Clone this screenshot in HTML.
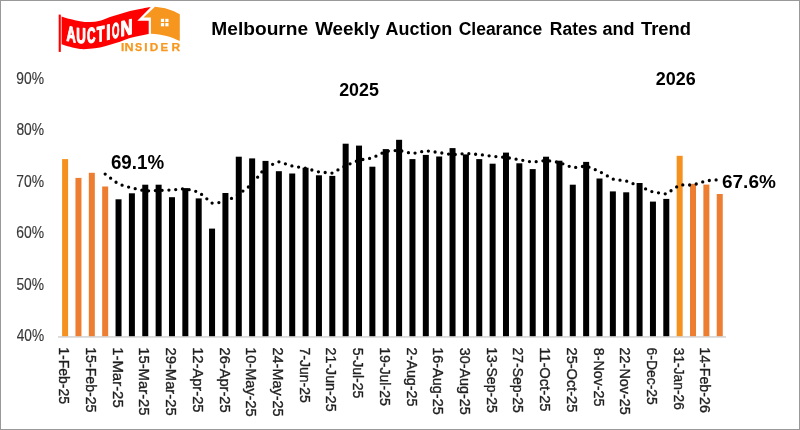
<!DOCTYPE html>
<html><head><meta charset="utf-8"><style>
html,body{margin:0;padding:0;background:#fff;}
svg{display:block;will-change:transform;}
text{font-family:"Liberation Sans",sans-serif;}
.xl{font-size:14.6px;fill:#1f1f1f;stroke:#1f1f1f;stroke-width:0.35;}
.yl{fill:#383838;stroke:#383838;stroke-width:0.15;}
.b{font-weight:bold;fill:#000;stroke:#fff;stroke-width:0;}
.ins{font-weight:bold;fill:#F7981F;stroke:#F7981F;stroke-width:0.25;stroke-linejoin:round;}
.auc{font-weight:bold;fill:#fff;stroke:#fff;stroke-width:1.2;stroke-linejoin:round;}
</style></head><body>
<svg width="800" height="430" viewBox="0 0 800 430">
<rect x="0" y="0" width="800" height="430" fill="#fff"/>
<rect x="0.5" y="0.5" width="799" height="429" fill="none" stroke="#999999" stroke-width="1"/>

<g>
  <rect x="58.7" y="14.6" width="2.1" height="37.3" fill="#FF0000"/>
  <path d="M61.6,16.4 C63.00,16.83 66.93,18.20 70.00,19.00 C73.07,19.80 76.67,20.68 80.00,21.20 C83.33,21.72 86.67,22.17 90.00,22.10 C93.33,22.03 96.67,21.67 100.00,20.80 C103.33,19.93 106.67,18.05 110.00,16.90 C113.33,15.75 116.67,14.90 120.00,13.90 C123.33,12.90 126.67,11.72 130.00,10.90 C133.33,10.08 136.52,9.63 140.00,9.00 C143.48,8.37 149.08,7.42 150.90,7.10 L137.3,20.8 L148.7,20.8 L148.7,33.9 C147.25,34.20 143.12,35.02 140.00,35.70 C136.88,36.38 133.33,36.98 130.00,38.00 C126.67,39.02 123.33,40.67 120.00,41.80 C116.67,42.93 113.33,43.87 110.00,44.80 C106.67,45.73 103.33,46.73 100.00,47.40 C96.67,48.07 93.33,48.53 90.00,48.80 C86.67,49.07 83.33,49.33 80.00,49.00 C76.67,48.67 73.07,47.60 70.00,46.80 C66.93,46.00 63.00,44.63 61.60,44.20 Z" fill="#FF0000"/>
  <path d="M155,6.8 C165,7.6 172,10 179.8,14.2 L179.8,41.1 C172,37 162,34 150.9,33.7 L150.9,17.6 L143.5,17.6 Z" fill="#F6961F"/>
  <g fill="#fff">
    <rect x="160.9" y="18.8" width="3.2" height="3.2"/><rect x="165.3" y="18.8" width="3.2" height="3.2"/>
    <rect x="160.9" y="23.1" width="3.2" height="3.2"/><rect x="165.3" y="23.1" width="3.2" height="3.2"/>
  </g>
  <text transform="translate(71.10,41.63) skewY(12.33)" x="-4.62" y="0" font-size="21.3" class="auc" textLength="9.26" lengthAdjust="spacingAndGlyphs">A</text><text transform="translate(81.00,42.88) skewY(2.41)" x="-4.80" y="0" font-size="21.3" class="auc" textLength="9.61" lengthAdjust="spacingAndGlyphs">U</text><text transform="translate(91.35,42.56) skewY(-5.60)" x="-4.33" y="0" font-size="21.3" class="auc" textLength="8.51" lengthAdjust="spacingAndGlyphs">C</text><text transform="translate(100.75,41.19) skewY(-10.56)" x="-3.89" y="0" font-size="21.3" class="auc" textLength="7.78" lengthAdjust="spacingAndGlyphs">T</text><text transform="translate(108.30,39.60) skewY(-12.97)" x="-2.12" y="0" font-size="21.3" class="auc" textLength="4.24" lengthAdjust="spacingAndGlyphs">I</text><text transform="translate(115.80,37.79) skewY(-14.04)" x="-3.69" y="0" font-size="21.3" class="auc" textLength="7.39" lengthAdjust="spacingAndGlyphs">O</text><text transform="translate(126.50,35.13) skewY(-13.36)" x="-6.02" y="0" font-size="21.3" class="auc" textLength="12.04" lengthAdjust="spacingAndGlyphs">N</text>
  <text x="121.06" y="50.60" font-size="10.0" class="ins" textLength="3.28" lengthAdjust="spacingAndGlyphs" >I</text><text x="124.41" y="50.60" font-size="10.0" class="ins" textLength="9.09" lengthAdjust="spacingAndGlyphs" >N</text><text x="135.04" y="50.60" font-size="10.0" class="ins" textLength="7.13" lengthAdjust="spacingAndGlyphs" >S</text><text x="144.16" y="50.60" font-size="10.0" class="ins" textLength="3.28" lengthAdjust="spacingAndGlyphs" >I</text><text x="149.66" y="50.60" font-size="10.0" class="ins" textLength="8.48" lengthAdjust="spacingAndGlyphs" >D</text><text x="160.49" y="50.60" font-size="10.0" class="ins" textLength="7.61" lengthAdjust="spacingAndGlyphs" >E</text><text x="171.55" y="50.60" font-size="10.0" class="ins" textLength="8.65" lengthAdjust="spacingAndGlyphs" >R</text>
</g>

<text x="211.32" y="35.10" font-size="18.8" class="b" textLength="96.84" lengthAdjust="spacingAndGlyphs" >Melbourne</text><text x="315.18" y="35.10" font-size="18.8" class="b" textLength="64.52" lengthAdjust="spacingAndGlyphs" >Weekly</text><text x="385.55" y="35.10" font-size="18.8" class="b" textLength="66.76" lengthAdjust="spacingAndGlyphs" >Auction</text><text x="458.68" y="35.10" font-size="18.8" class="b" textLength="83.62" lengthAdjust="spacingAndGlyphs" >Clearance</text><text x="549.83" y="35.10" font-size="18.8" class="b" textLength="47.59" lengthAdjust="spacingAndGlyphs" >Rates</text><text x="602.47" y="35.10" font-size="18.8" class="b" textLength="32.01" lengthAdjust="spacingAndGlyphs" >and</text><text x="641.00" y="35.10" font-size="18.8" class="b" textLength="49.99" lengthAdjust="spacingAndGlyphs" >Trend</text>
<text x="339.18" y="95.50" font-size="17.6" class="b" textLength="39.72" lengthAdjust="spacingAndGlyphs" >2025</text>
<text x="655.78" y="84.70" font-size="17.9" class="b" textLength="39.97" lengthAdjust="spacingAndGlyphs" >2026</text>
<text x="16.35" y="83.70" font-size="15.8" class="yl" textLength="27.74" lengthAdjust="spacingAndGlyphs" >90%</text><text x="16.40" y="135.25" font-size="15.8" class="yl" textLength="27.69" lengthAdjust="spacingAndGlyphs" >80%</text><text x="16.29" y="186.80" font-size="15.8" class="yl" textLength="27.81" lengthAdjust="spacingAndGlyphs" >70%</text><text x="16.29" y="238.35" font-size="15.8" class="yl" textLength="27.80" lengthAdjust="spacingAndGlyphs" >60%</text><text x="16.45" y="289.90" font-size="15.8" class="yl" textLength="27.65" lengthAdjust="spacingAndGlyphs" >50%</text><text x="16.69" y="341.45" font-size="15.8" class="yl" textLength="27.40" lengthAdjust="spacingAndGlyphs" >40%</text>
<rect x="58" y="336" width="668" height="1.8" fill="#D9D9D9"/>
<rect x="62.10" y="159.10" width="6.0" height="177.10" fill="#F5921F"/><rect x="75.46" y="177.90" width="6.0" height="158.30" fill="#EC7D31"/><rect x="88.82" y="172.80" width="6.0" height="163.40" fill="#EC7D31"/><rect x="102.18" y="186.50" width="6.0" height="149.70" fill="#EC7D31"/><rect x="115.54" y="199.30" width="6.0" height="136.90" fill="#000000"/><rect x="128.90" y="193.30" width="6.0" height="142.90" fill="#000000"/><rect x="142.26" y="184.70" width="6.0" height="151.50" fill="#000000"/><rect x="155.62" y="184.70" width="6.0" height="151.50" fill="#000000"/><rect x="168.98" y="197.20" width="6.0" height="139.00" fill="#000000"/><rect x="182.34" y="188.10" width="6.0" height="148.10" fill="#000000"/><rect x="195.70" y="198.40" width="6.0" height="137.80" fill="#000000"/><rect x="209.06" y="228.60" width="6.0" height="107.60" fill="#000000"/><rect x="222.42" y="193.00" width="6.0" height="143.20" fill="#000000"/><rect x="235.78" y="156.70" width="6.0" height="179.50" fill="#000000"/><rect x="249.14" y="158.40" width="6.0" height="177.80" fill="#000000"/><rect x="262.50" y="160.90" width="6.0" height="175.30" fill="#000000"/><rect x="275.86" y="171.20" width="6.0" height="165.00" fill="#000000"/><rect x="289.22" y="173.50" width="6.0" height="162.70" fill="#000000"/><rect x="302.58" y="167.70" width="6.0" height="168.50" fill="#000000"/><rect x="315.94" y="175.30" width="6.0" height="160.90" fill="#000000"/><rect x="329.30" y="175.90" width="6.0" height="160.30" fill="#000000"/><rect x="342.66" y="143.70" width="6.0" height="192.50" fill="#000000"/><rect x="356.02" y="145.60" width="6.0" height="190.60" fill="#000000"/><rect x="369.38" y="166.70" width="6.0" height="169.50" fill="#000000"/><rect x="382.74" y="149.10" width="6.0" height="187.10" fill="#000000"/><rect x="396.10" y="139.80" width="6.0" height="196.40" fill="#000000"/><rect x="409.46" y="159.10" width="6.0" height="177.10" fill="#000000"/><rect x="422.82" y="154.90" width="6.0" height="181.30" fill="#000000"/><rect x="436.18" y="156.50" width="6.0" height="179.70" fill="#000000"/><rect x="449.54" y="148.10" width="6.0" height="188.10" fill="#000000"/><rect x="462.90" y="154.40" width="6.0" height="181.80" fill="#000000"/><rect x="476.26" y="159.10" width="6.0" height="177.10" fill="#000000"/><rect x="489.62" y="163.70" width="6.0" height="172.50" fill="#000000"/><rect x="502.98" y="152.60" width="6.0" height="183.60" fill="#000000"/><rect x="516.34" y="163.30" width="6.0" height="172.90" fill="#000000"/><rect x="529.70" y="169.10" width="6.0" height="167.10" fill="#000000"/><rect x="543.06" y="156.70" width="6.0" height="179.50" fill="#000000"/><rect x="556.42" y="160.70" width="6.0" height="175.50" fill="#000000"/><rect x="569.78" y="184.70" width="6.0" height="151.50" fill="#000000"/><rect x="583.14" y="161.90" width="6.0" height="174.30" fill="#000000"/><rect x="596.50" y="178.50" width="6.0" height="157.70" fill="#000000"/><rect x="609.86" y="191.40" width="6.0" height="144.80" fill="#000000"/><rect x="623.22" y="192.30" width="6.0" height="143.90" fill="#000000"/><rect x="636.58" y="183.00" width="6.0" height="153.20" fill="#000000"/><rect x="649.94" y="201.60" width="6.0" height="134.60" fill="#000000"/><rect x="663.30" y="198.90" width="6.0" height="137.30" fill="#000000"/><rect x="676.66" y="155.80" width="6.0" height="180.40" fill="#F5921F"/><rect x="690.02" y="183.80" width="6.0" height="152.40" fill="#EC7D31"/><rect x="703.38" y="184.60" width="6.0" height="151.60" fill="#EC7D31"/><rect x="716.74" y="194.00" width="6.0" height="142.20" fill="#EC7D31"/>
<polyline points="105.18,174.07 118.54,184.12 131.90,187.98 145.26,190.95 158.62,190.50 171.98,189.97 185.34,188.67 198.70,192.10 212.06,203.07 225.42,202.03 238.78,194.18 252.14,184.18 265.50,167.25 278.86,161.80 292.22,166.00 305.58,168.32 318.94,171.93 332.30,173.10 345.66,165.65 359.02,160.12 372.38,157.97 385.74,151.27 399.10,150.30 412.46,153.68 425.82,150.72 439.18,152.57 452.54,154.65 465.90,153.47 479.26,154.53 492.62,156.32 505.98,157.45 519.34,159.68 532.70,162.18 546.06,160.43 559.42,162.45 572.78,167.80 586.14,166.00 599.50,171.45 612.86,179.12 626.22,181.03 639.58,186.30 652.94,192.07 666.30,193.95 679.66,184.83 693.02,185.03 706.38,180.78 719.74,179.55" fill="none" stroke="#000" stroke-width="3.3" stroke-linecap="round" stroke-dasharray="0 6.8"/>
<text x="110.91" y="169.40" font-size="19.6" class="b" textLength="53.18" lengthAdjust="spacingAndGlyphs" >69.1%</text>
<text x="722.01" y="188.20" font-size="19.2" class="b" textLength="53.80" lengthAdjust="spacingAndGlyphs" >67.6%</text>
<text transform="translate(59.20,0) rotate(90)" x="347.23" y="0" class="xl" textLength="56.86" lengthAdjust="spacingAndGlyphs">1-Feb-25</text><text transform="translate(85.92,0) rotate(90)" x="347.22" y="0" class="xl" textLength="65.27" lengthAdjust="spacingAndGlyphs">15-Feb-25</text><text transform="translate(112.64,0) rotate(90)" x="347.16" y="0" class="xl" textLength="60.56" lengthAdjust="spacingAndGlyphs">1-Mar-25</text><text transform="translate(139.36,0) rotate(90)" x="347.17" y="0" class="xl" textLength="68.45" lengthAdjust="spacingAndGlyphs">15-Mar-25</text><text transform="translate(166.08,0) rotate(90)" x="347.56" y="0" class="xl" textLength="68.06" lengthAdjust="spacingAndGlyphs">29-Mar-25</text><text transform="translate(192.80,0) rotate(90)" x="347.18" y="0" class="xl" textLength="65.34" lengthAdjust="spacingAndGlyphs">12-Apr-25</text><text transform="translate(219.52,0) rotate(90)" x="347.57" y="0" class="xl" textLength="64.95" lengthAdjust="spacingAndGlyphs">26-Apr-25</text><text transform="translate(246.24,0) rotate(90)" x="347.19" y="0" class="xl" textLength="69.36" lengthAdjust="spacingAndGlyphs">10-May-25</text><text transform="translate(272.96,0) rotate(90)" x="347.57" y="0" class="xl" textLength="68.98" lengthAdjust="spacingAndGlyphs">24-May-25</text><text transform="translate(299.68,0) rotate(90)" x="347.58" y="0" class="xl" textLength="55.20" lengthAdjust="spacingAndGlyphs">7-Jun-25</text><text transform="translate(326.40,0) rotate(90)" x="347.59" y="0" class="xl" textLength="63.96" lengthAdjust="spacingAndGlyphs">21-Jun-25</text><text transform="translate(353.12,0) rotate(90)" x="347.74" y="0" class="xl" textLength="50.55" lengthAdjust="spacingAndGlyphs">5-Jul-25</text><text transform="translate(379.84,0) rotate(90)" x="347.23" y="0" class="xl" textLength="58.56" lengthAdjust="spacingAndGlyphs">19-Jul-25</text><text transform="translate(406.56,0) rotate(90)" x="347.58" y="0" class="xl" textLength="58.97" lengthAdjust="spacingAndGlyphs">2-Aug-25</text><text transform="translate(433.28,0) rotate(90)" x="347.20" y="0" class="xl" textLength="67.61" lengthAdjust="spacingAndGlyphs">16-Aug-25</text><text transform="translate(460.00,0) rotate(90)" x="347.75" y="0" class="xl" textLength="67.05" lengthAdjust="spacingAndGlyphs">30-Aug-25</text><text transform="translate(486.72,0) rotate(90)" x="347.23" y="0" class="xl" textLength="65.56" lengthAdjust="spacingAndGlyphs">13-Sep-25</text><text transform="translate(513.44,0) rotate(90)" x="347.60" y="0" class="xl" textLength="65.19" lengthAdjust="spacingAndGlyphs">27-Sep-25</text><text transform="translate(540.16,0) rotate(90)" x="347.20" y="0" class="xl" textLength="64.36" lengthAdjust="spacingAndGlyphs">11-Oct-25</text><text transform="translate(566.88,0) rotate(90)" x="347.57" y="0" class="xl" textLength="64.74" lengthAdjust="spacingAndGlyphs">25-Oct-25</text><text transform="translate(593.60,0) rotate(90)" x="347.68" y="0" class="xl" textLength="58.87" lengthAdjust="spacingAndGlyphs">8-Nov-25</text><text transform="translate(620.32,0) rotate(90)" x="347.58" y="0" class="xl" textLength="67.23" lengthAdjust="spacingAndGlyphs">22-Nov-25</text><text transform="translate(647.04,0) rotate(90)" x="347.59" y="0" class="xl" textLength="57.19" lengthAdjust="spacingAndGlyphs">6-Dec-25</text><text transform="translate(673.76,0) rotate(90)" x="347.78" y="0" class="xl" textLength="62.03" lengthAdjust="spacingAndGlyphs">31-Jan-26</text><text transform="translate(700.48,0) rotate(90)" x="347.22" y="0" class="xl" textLength="65.61" lengthAdjust="spacingAndGlyphs">14-Feb-26</text>
</svg>
</body></html>
